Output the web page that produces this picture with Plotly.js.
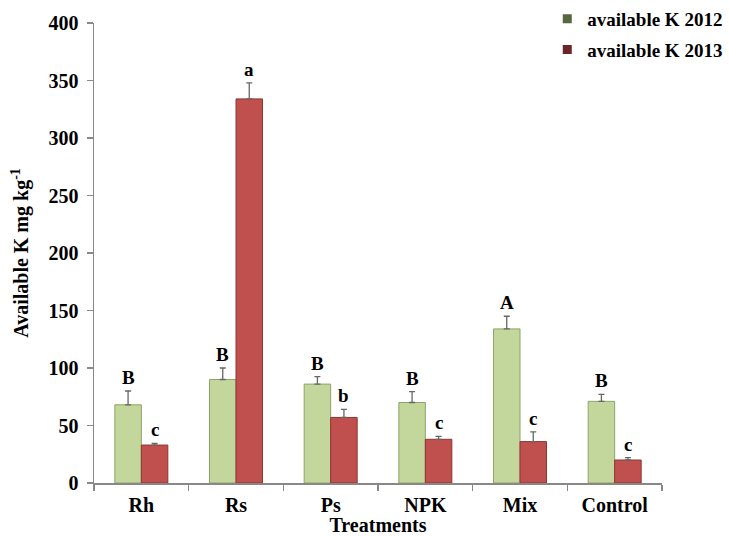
<!DOCTYPE html>
<html>
<head>
<meta charset="utf-8">
<script src="https://cdn.plot.ly/plotly-3.0.1.min.js"></script>
<style>html,body{margin:0;padding:0;background:#fff;}#chart{width:729px;height:536px;}</style>
</head>
<body>
<div id="chart"></div>
<script>
const categories = ["Rh", "Rs", "Ps", "NPK", "Mix", "Control"];
const k2012 = [68, 90, 86, 70, 134, 71];
const k2012Err = [12, 10, 6.5, 9.5, 11, 6];
const k2013 = [33, 334, 57, 38, 36, 20];
const k2013Err = [1.5, 14, 7, 2.5, 8.5, 2];
const letters2012 = ["B", "B", "B", "B", "A", "B"];
const letters2013 = ["c", "a", "b", "c", "c", "c"];
const seriesNames = ["available K 2012", "available K 2013"];

const FONT = "Liberation Serif, Times New Roman, serif";
const zeros = categories.map(() => 0);

const traces = [
  {type: "bar", x: categories, y: k2012, name: seriesNames[0], showlegend: false,
   marker: {color: "#c3d69b", line: {color: "#8fa466", width: 1}},
   error_y: {type: "data", symmetric: false, array: k2012Err, arrayminus: zeros, color: "#666", thickness: 1.3, width: 3}},
  {type: "bar", x: categories, y: k2013, name: seriesNames[1], showlegend: false,
   marker: {color: "#c0504d", line: {color: "#8e3533", width: 1}},
   error_y: {type: "data", symmetric: false, array: k2013Err, arrayminus: zeros, color: "#666", thickness: 1.3, width: 3}},
  {type: "scatter", mode: "markers", x: [categories[0]], y: [null], name: seriesNames[0], legendgroup: "g1",
   marker: {symbol: "square", size: 9, color: "#56683f"}},
  {type: "scatter", mode: "markers", x: [categories[0]], y: [null], name: seriesNames[1], legendgroup: "g2",
   marker: {symbol: "square", size: 9, color: "#6a2626"}}
];

const annotations = [];
categories.forEach((c, i) => {
  annotations.push({x: i - 0.14, y: k2012[i] + k2012Err[i], xref: "x", yref: "y", text: letters2012[i],
    showarrow: false, yanchor: "bottom", yshift: 1, font: {family: FONT, size: 19, weight: "bold", color: "#000"}});
  annotations.push({x: i + 0.14, y: k2013[i] + k2013Err[i], xref: "x", yref: "y", text: letters2013[i],
    showarrow: false, yanchor: "bottom", yshift: 1, font: {family: FONT, size: 19, weight: "bold", color: "#000"}});
});

const layout = {
  width: 729, height: 536,
  margin: {l: 94, r: 67, t: 23, b: 53, autoexpand: false},
  paper_bgcolor: "#fff", plot_bgcolor: "#fff",
  barmode: "group", bargap: 0.44, bargroupgap: 0,
  font: {family: FONT, size: 20, weight: "bold", color: "#000"},
  xaxis: {
    type: "category", showgrid: false, zeroline: false,
    showline: true, linecolor: "#888", linewidth: 1.5,
    ticks: "outside", tickson: "boundaries", ticklen: 6, tickcolor: "#888", tickwidth: 1.5,
    ticklabelstandoff: 3,
    tickfont: {family: FONT, size: 20, weight: "bold", color: "#000"},
    title: {text: "Treatments", standoff: 0, font: {family: FONT, size: 20, weight: "bold", color: "#000"}},
    automargin: false
  },
  yaxis: {
    range: [0, 400], dtick: 50, showgrid: false, zeroline: false,
    showline: true, linecolor: "#888", linewidth: 1.5,
    ticks: "outside", ticklen: 6, tickcolor: "#888", tickwidth: 1.5,
    ticklabelstandoff: 4,
    tickfont: {family: FONT, size: 20, weight: "bold", color: "#000"},
    title: {text: "Available K mg kg<sup>-1</sup>", standoff: 14, font: {family: FONT, size: 20, weight: "bold", color: "#000"}},
    automargin: false
  },
  legend: {
    x: 0.798, xanchor: "left", y: 1.05, yanchor: "top",
    bgcolor: "rgba(0,0,0,0)", traceorder: "grouped", tracegroupgap: 3,
    font: {family: FONT, size: 19, weight: "bold", color: "#000"}
  },
  annotations: annotations,
  showlegend: true
};

Plotly.newPlot("chart", traces, layout, {displayModeBar: false, staticPlot: true});
</script>
</body>
</html>
